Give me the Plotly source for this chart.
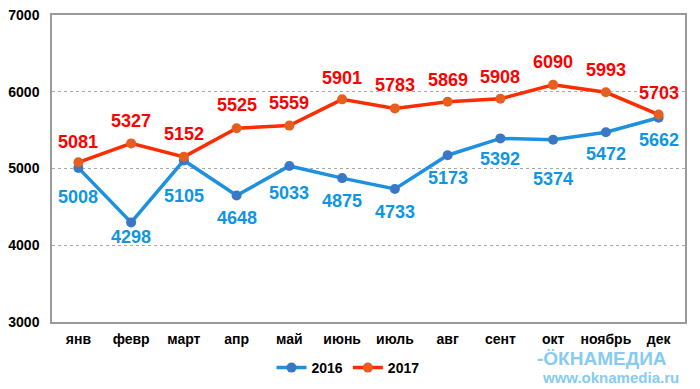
import plotly.graph_objects as go

months = ["янв", "февр", "март", "апр", "май", "июнь", "июль", "авг", "сент", "окт", "ноябрь", "дек"]
values_2016 = [5008, 4298, 5105, 4648, 5033, 4875, 4733, 5173, 5392, 5374, 5472, 5662]
values_2017 = [5081, 5327, 5152, 5525, 5559, 5901, 5783, 5869, 5908, 6090, 5993, 5703]
y_ticks = [3000, 4000, 5000, 6000, 7000]

# label offsets in pixels (positive = below the point)
offsets_2016 = [29, 15, 36, 22, 27, 23, 23, 23, 21, 39, 22, 22]
offsets_2017 = [-20, -22, -23, -23, -23, -21, -23, -22, -22, -23, -22, -22]

FONT = "Arial, Liberation Sans, sans-serif"
BLUE_LINE = "#1E90E0"
BLUE_MARK = "#3A78C6"
BLUE_TEXT = "#0E96E4"
RED_LINE = "#FF2C00"
RED_MARK = "#E5601E"
RED_TEXT = "#FF0000"

W, H = 700, 389
PL, PR, PT, PB = 52, 685, 15, 322  # plot area in page pixels
L, T, R, B = PL, PT, W - PR, H - PB
pw, ph = PR - PL, PB - PT


def px(x):
    return (x - PL) / pw


def py(y):
    return (PB - y) / ph


fig = go.Figure()
fig.add_trace(go.Scatter(
    x=months, y=values_2016, name="2016", mode="lines+markers",
    line=dict(color=BLUE_LINE, width=3.5),
    marker=dict(color=BLUE_MARK, size=10),
))
fig.add_trace(go.Scatter(
    x=months, y=values_2017, name="2017", mode="lines+markers",
    line=dict(color=RED_LINE, width=3.5),
    marker=dict(color=RED_MARK, size=10),
))

annotations = []
for m, v, off in zip(months, values_2016, offsets_2016):
    annotations.append(dict(x=m, y=v, xref="x", yref="y", text=str(v), showarrow=False,
                            yshift=-off, yanchor="middle",
                            font=dict(family=FONT, size=18, color=BLUE_TEXT, weight="bold")))
for m, v, off in zip(months, values_2017, offsets_2017):
    annotations.append(dict(x=m, y=v, xref="x", yref="y", text=str(v), showarrow=False,
                            yshift=-off, yanchor="middle",
                            font=dict(family=FONT, size=18, color=RED_TEXT, weight="bold")))

# watermark
annotations.append(dict(x=px(602), y=py(358), xref="paper", yref="paper",
                        text="<b>-ÖКНАМЕДИА</b>", showarrow=False,
                        xanchor="center", yanchor="middle",
                        font=dict(family=FONT, size=19, color="#86CBF2")))
annotations.append(dict(x=px(610), y=py(377), xref="paper", yref="paper",
                        text="<b>www.oknamedia.ru</b>", showarrow=False,
                        xanchor="center", yanchor="middle",
                        font=dict(family=FONT, size=15, color="#86CBF2")))

fig.update_layout(
    width=W, height=H,
    margin=dict(l=L, r=R, t=T, b=B, autoexpand=False),
    paper_bgcolor="white", plot_bgcolor="white",
    font=dict(family=FONT, color="black"),
    showlegend=True,
    legend=dict(orientation="h", x=px(348), xanchor="center",
                y=py(368), yanchor="middle",
                font=dict(family=FONT, size=14, color="black", weight="bold"),
                bgcolor="rgba(0,0,0,0)"),
    annotations=annotations,
)
fig.update_xaxes(
    range=[-0.5, 11.5], showgrid=False, ticks="", showline=True, mirror=True,
    linecolor="#9A9A9A", linewidth=1.5, automargin=False,
    tickfont=dict(family=FONT, size=14, color="black", weight="bold"),
    ticklabelstandoff=3,
)
fig.update_yaxes(
    range=[3000, 7000], tickvals=y_ticks, showgrid=True, gridcolor="#A8A8A8",
    griddash="dot", gridwidth=1, zeroline=False, ticks="", automargin=False,
    showline=True, mirror=True, linecolor="#9A9A9A", linewidth=1.5,
    tickfont=dict(family=FONT, size=14, color="black", weight="bold"),
    ticklabelstandoff=8,
)

fig.write_html(
    "out.html",
    config={"displayModeBar": False},
    post_script="document.body.style.margin='0';document.body.style.overflow='hidden';",
)
